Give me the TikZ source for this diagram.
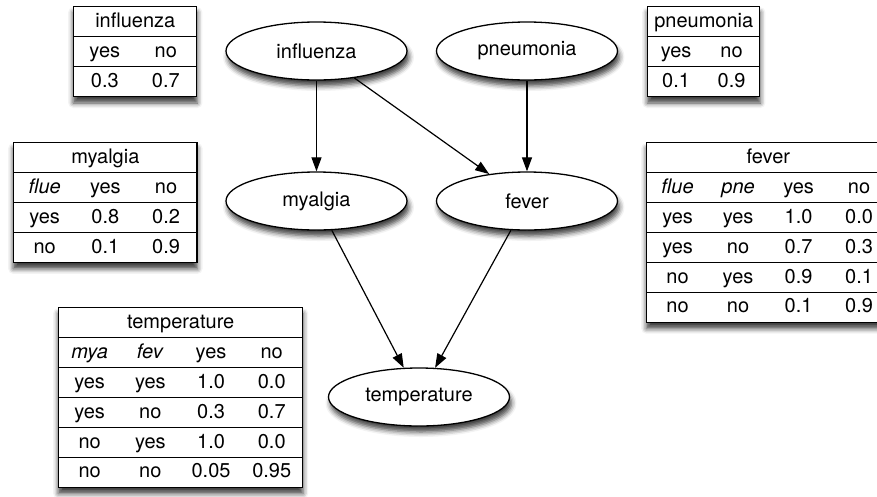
\documentclass[tikz,border=0pt]{standalone}
\usepackage{fontspec}
\setmainfont{TeX Gyre Heros}
\usepackage{array}
\usetikzlibrary{shapes.geometric,arrows.meta,shadows.blur}
\newcolumntype{C}[1]{>{\centering\arraybackslash}p{#1}}
\setlength{\arrayrulewidth}{1.1pt}
\setlength{\tabcolsep}{0pt}
\renewcommand{\arraystretch}{1.2}

\tikzset{
  var/.style={ellipse, draw, line width=1.3pt, fill=white,
    minimum width=181pt, minimum height=58pt, inner sep=0pt,
    blur shadow={shadow xshift=2pt, shadow yshift=-6pt, shadow blur radius=5pt, shadow opacity=75}},
  cpt/.style={anchor=north west, fill=white, inner sep=0pt,
    blur shadow={shadow xshift=0pt, shadow yshift=-6pt, shadow blur radius=5pt, shadow opacity=75}},
  dep/.style={-{Triangle[length=14pt,width=10pt]}, line width=1.2pt}
}

\begin{document}
\begin{tikzpicture}[x=1pt, y=-1pt, font=\fontsize{20}{24}\selectfont]
    % Recortar al marco de la figura
    \clip (0,0) rectangle (877,496);

    % Variables de la red
    \node[var] (flu) at (316.5,51) {influenza};
    \node[var] (pne) at (527,51) {pneumonia};
    \node[var] (mya) at (316.5,201) {myalgia};
    \node[var] (fev) at (527,201) {fever};
    \node[var] (tem) at (419,397) {temperature};

    % Dependencias
    \draw[dep] (flu) -- (mya);
    \draw[dep] (flu) -- (fev);
    \draw[dep] (pne) -- (fev);
    \draw[dep] (mya) -- (tem);
    \draw[dep] (fev) -- (tem);

    % Tablas de probabilidad
    \node[cpt] (tabflu) at (73,6) {\begin{tabular}{|C{61pt}C{61pt}|}\hline
      \multicolumn{2}{|c|}{influenza}\\\hline
      yes & no\\\hline
      0.3 & 0.7\\\hline
    \end{tabular}};
    \node[cpt] (tabpne) at (647,6) {\begin{tabular}{|C{55.5pt}C{55.5pt}|}\hline
      \multicolumn{2}{|c|}{pneumonia}\\\hline
      yes & no\\\hline
      0.1 & 0.9\\\hline
    \end{tabular}};
    \node[cpt] (tabmya) at (13,142) {\begin{tabular}{|C{60.7pt}C{60.7pt}C{60.7pt}|}\hline
      \multicolumn{3}{|c|}{myalgia}\\\hline
      \textit{flue} & yes & no\\\hline
      yes & 0.8 & 0.2\\\hline
      no & 0.1 & 0.9\\\hline
    \end{tabular}};
    \node[cpt] (tabfev) at (646,142) {\begin{tabular}{|C{60.5pt}C{60.5pt}C{60.5pt}C{60.5pt}|}\hline
      \multicolumn{4}{|c|}{fever}\\\hline
      \textit{flue} & \textit{pne} & yes & no\\\hline
      yes & yes & 1.0 & 0.0\\\hline
      yes & no & 0.7 & 0.3\\\hline
      no & yes & 0.9 & 0.1\\\hline
      no & no & 0.1 & 0.9\\\hline
    \end{tabular}};
    \node[cpt] (tabtem) at (58,307) {\begin{tabular}{|C{60.7pt}C{60.7pt}C{60.7pt}C{60.7pt}|}\hline
      \multicolumn{4}{|c|}{temperature}\\\hline
      \textit{mya} & \textit{fev} & yes & no\\\hline
      yes & yes & 1.0 & 0.0\\\hline
      yes & no & 0.3 & 0.7\\\hline
      no & yes & 1.0 & 0.0\\\hline
      no & no & 0.05 & 0.95\\\hline
    \end{tabular}};
\end{tikzpicture}
\end{document}
